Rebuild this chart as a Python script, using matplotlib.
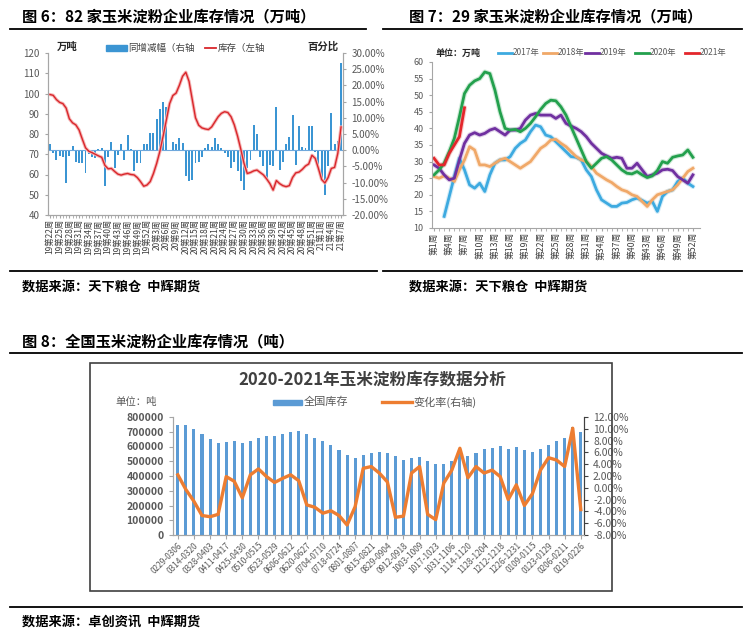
import matplotlib
matplotlib.use("Agg")
import matplotlib.pyplot as plt
from matplotlib.lines import Line2D
from matplotlib.patches import Rectangle
import numpy as np

plt.rcParams['font.family'] = ['Noto Sans CJK SC', 'DejaVu Sans']
plt.rcParams['axes.unicode_minus'] = False

W, H = 749, 632
nan = np.nan

# ---------------------------------------------------------------------------
# 图6: 82家企业库存 (万吨) + 周增减幅 (%)  -- 19年第22周 .. 21年第7周
# ---------------------------------------------------------------------------
stock82 = [99.5, 99.1, 97.0, 95.6, 95.0, 92.8, 87.5, 85.5, 84.5, 82.0,
           77.5, 73.2, 71.5, 70.8, 70.0, 69.2, 68.5, 64.5, 62.8, 63.0,
           61.5, 60.2, 59.7, 60.2, 60.5, 60.0, 59.8, 58.5, 56.5, 54.2,
           54.8, 56.5, 60.5, 65.5, 71.5, 79.0, 87.0, 95.0, 99.0, 100.2,
           104.0, 108.5, 110.5, 106.0, 97.0, 88.0, 84.3, 83.0, 82.5, 82.2,
           83.5, 86.0, 88.5, 90.2, 91.0, 90.6, 88.5, 84.5, 79.0, 72.5,
           65.5, 60.5, 61.0, 61.8, 62.2, 61.0, 59.8, 57.8, 55.5, 52.3,
           57.0, 55.5, 54.5, 54.0, 54.5, 58.5, 60.8, 61.2, 62.5, 64.2,
           65.2, 69.5, 68.0, 63.0, 57.5, 55.8, 58.5, 63.0, 63.5, 70.5,
           83.5]
chg82 = [1.8, -1.0, -2.9, -1.7, -2.0, -10.2, -1.9, 1.2, -3.6, -4.1,
         -4.1, -7.1, -1.2, -2.0, -2.5, 0.5, 0.8, -11.2, -2.0, 2.6,
         -5.6, -1.5, 1.8, -3.0, 4.6, 0.3, -6.3, -4.0, -4.0, 1.8,
         1.8, 5.3, 5.3, 9.7, 12.7, 14.8, 13.3, 0.2, 2.5, 1.8,
         3.9, 2.1, -8.0, -9.6, -9.1, -4.0, -3.6, -2.0, 0.8, 1.8,
         1.0, 3.8, 1.8, 0.8, -1.0, -2.0, -5.6, -3.6, -6.4, -9.6,
         -12.3, -5.6, -3.0, 7.8, 4.9, -2.0, -4.8, -8.6, -4.5, -5.0,
         13.2, -6.0, -3.6, 1.8, 4.0, 10.9, -4.5, 7.4, 1.0, 0.8,
         7.4, 7.4, -0.6, -6.0, -8.6, -13.9, -5.0, 11.4, 1.8, 2.9,
         26.8]
years82 = ["19"] * 31 + ["20"] * 53 + ["21"] * 7
weeks82 = list(range(22, 53)) + list(range(1, 54)) + list(range(1, 8))

# ---------------------------------------------------------------------------
# 图7: 29家企业库存 (万吨), 第1..52周
# ---------------------------------------------------------------------------
inv2017 = [nan, nan, 13.5, 19.5, 25.5, 31.0, 27.5, 23.0, 22.0, 23.5,
           21.0, 26.0, 29.5, 30.5, 30.5, 31.5, 34.0, 35.5, 36.5, 39.0,
           41.0, 40.5, 38.0, 37.5, 36.0, 34.5, 33.0, 31.5, 31.3, 30.5,
           27.5, 25.5, 21.5, 18.5, 17.5, 16.5, 16.5, 17.5, 17.7, 18.5,
           19.0, 18.3, 17.5, 18.0, 15.0, 19.5, 21.0, 21.5, 24.0, 25.0,
           23.5, 22.5]
inv2018 = [25.5, 25.0, 25.7, 25.0, 24.0, 27.5, 30.5, 34.5, 33.5, 29.0,
           29.0, 28.5, 29.5, 30.5, 31.0, 30.0, 29.0, 28.0, 29.0, 30.0,
           32.0, 34.0, 35.0, 36.5, 36.7, 35.5, 34.5, 33.0, 31.5, 30.5,
           30.0, 28.5, 26.5, 25.5, 24.5, 23.7, 22.5, 21.5, 21.0, 20.0,
           19.5, 18.0, 16.5, 18.5, 20.0, 20.5, 21.0, 21.5, 23.0, 25.0,
           27.0, 28.0]
inv2019 = [29.0, 28.0, 26.0, 24.5, 25.0, 30.5, 35.5, 38.0, 38.7, 38.0,
           38.5, 39.5, 40.0, 39.0, 38.0, 39.5, 39.5, 40.0, 42.5, 44.0,
           44.5, 44.0, 44.0, 44.0, 43.0, 44.0, 41.5, 40.7, 40.0, 39.0,
           37.5, 35.5, 34.0, 32.5, 31.7, 31.0, 31.3, 31.0, 28.0, 28.0,
           29.5, 27.5, 25.5, 26.0, 26.5, 27.5, 27.7, 27.3, 25.5, 24.5,
           23.5, 26.0]
inv2020 = [26.0, 27.5, 29.5, 33.0, 37.0, 43.5, 50.5, 53.0, 54.3, 55.0,
           57.0, 56.5, 51.5, 45.0, 40.0, 39.5, 39.7, 39.0, 40.0, 41.5,
           43.5, 45.7, 47.5, 48.5, 48.3, 46.5, 44.0, 40.5, 37.0, 33.5,
           30.0, 28.0, 29.5, 31.0, 31.5, 30.5, 29.0, 27.5, 26.5, 26.3,
           27.0, 26.0, 25.2, 25.7, 27.3, 30.0, 29.5, 31.3, 31.7, 32.0,
           33.5, 31.3]
inv2021 = [31.0, 29.0, 29.0, 32.5, 35.0, 37.5, 46.2] + [nan] * 45
years7 = ["2017年", "2018年", "2019年", "2020年", "2021年"]
colors7 = ["#3DAAE0", "#F0A868", "#7030A0", "#23A04D", "#E3262B"]

# ---------------------------------------------------------------------------
# 图8: 全国玉米淀粉库存 (吨) + 变化率 (%)
# ---------------------------------------------------------------------------
stock_cn = [745000, 743000, 720000, 685000, 650000, 625000, 633000, 640000, 625000, 640000,
            657000, 670000, 668000, 682000, 700000, 707000, 685000, 660000, 637000, 607000,
            578000, 540000, 520000, 540000, 557000, 566000, 557000, 536000, 506000, 520000,
            532000, 503000, 483000, 483000, 503000, 550000, 537000, 558000, 585000, 590000,
            605000, 585000, 598000, 578000, 565000, 585000, 612000, 640000, 660000, 735000,
            700000]
rate_cn = [2.2, -0.3, -2.3, -4.7, -4.9, -4.5, 1.9, 1.1, -1.7, 2.2,
           3.2, 1.9, 0.9, 1.6, 2.2, 1.2, -2.9, -3.3, -4.3, -3.9,
           -4.7, -6.3, -3.2, 3.3, 3.6, 2.5, 1.0, -5.0, -4.8, 2.5,
           3.6, -4.5, -5.4, 0.8, 3.0, 6.7, 1.7, 3.6, 2.5, 3.0,
           1.9, -2.0, 0.5, -3.0, -1.0, 3.0, 5.1, 4.7, 3.6, 10.1,
           -3.7]
periods_cn = ["0229-0306", "0314-0320", "0328-0403", "0411-0417", "0425-0430",
              "0510-0515", "0523-0529", "0606-0612", "0620-0627", "0704-0710",
              "0718-0724", "0801-0807", "0815-0821", "0829-0904", "0912-0918",
              "1003-1009", "1017-1023", "1031-1106", "1114-1120", "1128-1204",
              "1212-1218", "1226-1231", "0109-0115", "0123-0129", "0206-0211",
              "0219-0226"]

GREY = "#595959"
SPINE = "#A6A6A6"


def fx(x):
    return x / W


def fy(y):
    return 1 - y / H


def axes_px(fig, left, top, right, bottom):
    return fig.add_axes([fx(left), fy(bottom), (right - left) / W, (bottom - top) / H])


def hline(fig, x0, x1, y, lw=1.3, color="black"):
    fig.add_artist(Line2D([fx(x0), fx(x1)], [fy(y), fy(y)], color=color, lw=lw,
                          transform=fig.transFigure))


def text(fig, x, y, s, **kw):
    kw.setdefault("va", "center")
    fig.text(fx(x), fy(y), s, **kw)


fig = plt.figure(figsize=(W / 100, H / 100), dpi=100)

# ---------------- 图6 ----------------
text(fig, 22, 16, "图 6：82 家玉米淀粉企业库存情况（万吨）", fontsize=11, weight="bold")
hline(fig, 10, 366, 29)
hline(fig, 10, 377, 271)
text(fig, 22, 287, "数据来源：天下粮仓  中辉期货", fontsize=9.5, weight="bold")

ax6 = axes_px(fig, 48, 53, 343, 215)
ax6b = ax6.twinx()
x6 = np.arange(len(stock82))
ax6b.bar(x6, chg82, width=0.6, color="#3B95D3")
ax6b.axhline(0, color="#6FA8DC", lw=0.8)
ax6b.set_ylim(-20, 30)
ax6b.set_yticks(range(-20, 31, 5))
ax6b.set_yticklabels([f"{v:.2f}%" for v in range(-20, 31, 5)])
ax6.set_zorder(ax6b.get_zorder() + 1)
ax6.patch.set_visible(False)
ax6.plot(x6, stock82, color="#F5B5B5", lw=2.4, solid_capstyle="round")
ax6.plot(x6, stock82, color="#D9262B", lw=1.0)
ax6.set_ylim(40, 120)
ax6.set_yticks(range(40, 121, 10))
ax6.set_xlim(-0.6, 90.6)
ax6.set_xticks(x6[::3])
ax6.set_xticklabels([f"{years82[i]}第{weeks82[i]}周" for i in x6[::3]],
                    rotation=90, fontsize=6, color="#404040")
ax6.set_xticks(x6, minor=True)
for a in (ax6, ax6b):
    a.spines["top"].set_visible(False)
    for s in ("left", "right", "bottom"):
        a.spines[s].set_color(SPINE)
        a.spines[s].set_linewidth(0.8)
    a.tick_params(axis="y", labelsize=7, labelcolor=GREY, color=SPINE, length=2.5)
ax6.tick_params(axis="x", which="both", color=SPINE, length=2, pad=1)

fig.add_artist(Rectangle((fx(106), fy(51)), 21 / W, 6 / H, color="#3B95D3",
                         transform=fig.transFigure))
text(fig, 128, 48, "同增减幅（右轴", fontsize=6.8, color="#404040")
hline(fig, 205, 216, 48, lw=1.3, color="#D9262B")
text(fig, 218, 48, "库存（左轴", fontsize=6.8, color="#404040")
text(fig, 57, 47, "万吨", fontsize=7.5, weight="bold", color="#262626")
text(fig, 307, 47, "百分比", fontsize=7.5, weight="bold", color="#262626")

# ---------------- 图7 ----------------
text(fig, 409, 16, "图 7：29 家玉米淀粉企业库存情况（万吨）", fontsize=11, weight="bold")
hline(fig, 383, 742, 29)
hline(fig, 383, 742, 271)
text(fig, 409, 287, "数据来源：天下粮仓  中辉期货", fontsize=9.5, weight="bold")

ax7 = axes_px(fig, 432, 62, 700, 228)
wk = np.arange(1, 53)
series7 = [inv2017, inv2018, inv2019, inv2020, inv2021]
for vals, c in zip(series7, colors7):
    ax7.plot(wk, vals, color=c, lw=3.6, alpha=0.22, solid_capstyle="round")
for vals, c in zip(series7, colors7):
    ax7.plot(wk, vals, color=c, lw=2.0)
ax7.set_xlim(0.6, 53.4)
ax7.set_ylim(10, 60)
ax7.set_yticks(range(10, 61, 5))
ax7.set_xticks(wk[::3])
ax7.set_xticklabels([f"第{w}周" for w in wk[::3]], rotation=90, fontsize=6.3, color="#404040")
ax7.set_xticks(wk, minor=True)
for s in ("top", "right"):
    ax7.spines[s].set_visible(False)
for s in ("left", "bottom"):
    ax7.spines[s].set_color(SPINE)
    ax7.spines[s].set_linewidth(0.8)
ax7.tick_params(axis="y", labelsize=6.5, labelcolor=GREY, color=SPINE, length=2.5)
ax7.tick_params(axis="x", which="both", color=SPINE, length=2, pad=1)

text(fig, 436, 53, "单位：万吨", fontsize=6.5, weight="bold", color="#262626")
leg_x = [498, 543, 585, 635, 685]
for x0, lab, c in zip(leg_x, years7, colors7):
    hline(fig, x0, x0 + 14, 53, lw=2, color=c)
    text(fig, x0 + 15, 53, lab, fontsize=6, color=GREY)

# ---------------- 图8 ----------------
text(fig, 22, 341, "图 8：全国玉米淀粉企业库存情况（吨）", fontsize=11, weight="bold")
hline(fig, 10, 742, 353)
hline(fig, 10, 742, 607)
text(fig, 22, 622, "数据来源：卓创资讯  中辉期货", fontsize=9.5, weight="bold")
fig.add_artist(Rectangle((fx(90), fy(591)), 522 / W, 228 / H, fill=False,
                         ec="#404040", lw=1.2, transform=fig.transFigure))
text(fig, 372, 380, "2020-2021年玉米淀粉库存数据分析", fontsize=12, weight="bold",
     color="#404040", ha="center")
text(fig, 115, 402, "单位：吨", fontsize=7.5, color=GREY)
fig.add_artist(Rectangle((fx(273), fy(405)), 29 / W, 5 / H, color="#5B9BD5",
                         transform=fig.transFigure))
text(fig, 304, 402, "全国库存", fontsize=8, color=GREY)
hline(fig, 382, 412, 402, lw=2.4, color="#ED7D31")
text(fig, 413, 402, "变化率(右轴)", fontsize=8, color=GREY)

ax8 = axes_px(fig, 173, 417, 584, 535)
ax8b = ax8.twinx()
x8 = np.arange(len(stock_cn))
ax8.bar(x8, stock_cn, width=0.38, color="#5B9BD5")
ax8b.plot(x8, rate_cn, color="#ED7D31", lw=2.4)
ax8.set_xlim(-0.6, 50.4)
ax8.set_ylim(0, 800000)
ax8.set_yticks(range(0, 800001, 100000))
ax8.set_yticklabels([str(v) for v in range(0, 800001, 100000)])
ax8b.set_ylim(-8, 12)
ax8b.set_yticks(range(-8, 13, 2))
ax8b.set_yticklabels([f"{v:.2f}%" for v in range(-8, 13, 2)])
ax8.set_xticks(x8[::2])
ax8.set_xticklabels(periods_cn, rotation=45, ha="right", rotation_mode="anchor",
                    fontsize=6, color=GREY)
for a in (ax8, ax8b):
    a.spines["top"].set_visible(False)
    a.spines["left"].set_color(SPINE)
    a.spines["bottom"].set_color(SPINE)
    a.spines["right"].set_color("#404040")
ax8.tick_params(axis="y", labelsize=7.5, labelcolor=GREY, color=SPINE, length=3)
for lab in ax8.get_yticklabels():
    lab.set_fontweight("bold")
ax8b.tick_params(axis="y", labelsize=7.5, labelcolor=GREY, color="#404040", length=3)
ax8.tick_params(axis="x", color=SPINE, length=3, pad=1)

fig.savefig("out.png", dpi=100)
